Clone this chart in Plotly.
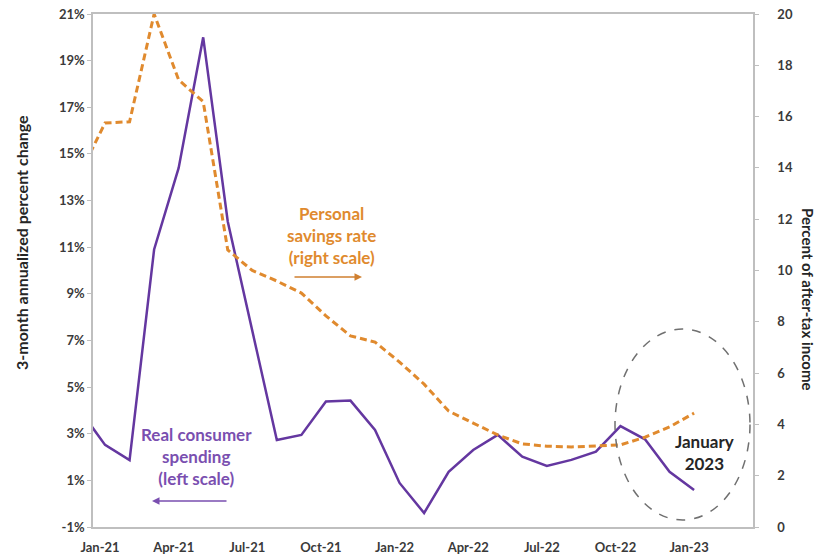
import plotly.graph_objects as go

# ---- data ----
months = ["Dec-20", "Jan-21", "Feb-21", "Mar-21", "Apr-21", "May-21", "Jun-21", "Jul-21",
          "Aug-21", "Sep-21", "Oct-21", "Nov-21", "Dec-21", "Jan-22", "Feb-22", "Mar-22",
          "Apr-22", "May-22", "Jun-22", "Jul-22", "Aug-22", "Sep-22", "Oct-22", "Nov-22",
          "Dec-22", "Jan-23", "Feb-23", "Mar-23"]
spending = [3.98, 2.52, 1.87, 10.9, 14.4, 20.0, 12.1, 7.4, 2.73, 2.95, 4.38, 4.42, 3.16,
            0.89, -0.4, 1.37, 2.3, 2.95, 2.02, 1.62, 1.88, 2.23, 3.33, 2.76, 1.37, 0.59]
savings = [13.81, 15.75, 15.8, 20.0, 17.43, 16.58, 10.8, 10.0, 9.59, 9.12, 8.23, 7.45, 7.21,
           6.43, 5.57, 4.52, 4.05, 3.59, 3.24, 3.15, 3.12, 3.15, 3.2, 3.5, 3.9, 4.44]
tick_labels = ["Jan-21", "Apr-21", "Jul-21", "Oct-21", "Jan-22", "Apr-22", "Jul-22",
               "Oct-22", "Jan-23"]
left_ticks = [-1, 1, 3, 5, 7, 9, 11, 13, 15, 17, 19, 21]
left_tick_text = ["-1%", "1%", "3%", "5%", "7%", "9%", "11%", "13%", "15%", "17%", "19%", "21%"]

PURPLE = "#6437A0"
ORANGE = "#E08A2E"
FONT = "Lato"
TICKC = "#3A3A3A"
AXC = "#BFBFBF"

fig = go.Figure()
fig.add_trace(go.Scatter(x=months[:len(spending)], y=spending, mode="lines",
                         line=dict(color=PURPLE, width=2.5), yaxis="y",
                         showlegend=False, hoverinfo="skip"))
fig.add_trace(go.Scatter(x=months[:len(savings)], y=savings, mode="lines",
                         line=dict(color=ORANGE, width=3, dash="7px,4px"), yaxis="y2",
                         showlegend=False, hoverinfo="skip"))

tf = dict(family=FONT, size=13, color=TICKC, weight="bold")
fig.update_layout(
    width=820, height=557,
    margin=dict(l=93, r=67, t=14, b=30),
    paper_bgcolor="white", plot_bgcolor="white",
    font=dict(family=FONT, color=TICKC),
    xaxis=dict(type="category", categoryorder="array", categoryarray=months,
               range=[0.51, 27.4], tickmode="array", tickvals=tick_labels,
               ticktext=tick_labels, showgrid=False, showline=True, linecolor=AXC,
               linewidth=1.5, mirror=True, ticks="", zeroline=False, automargin=False,
               ticklabelstandoff=8, ticklabelshift=-5, tickfont=tf),
    yaxis=dict(range=[-1, 21], tickmode="array", tickvals=left_ticks,
               ticktext=left_tick_text, showgrid=False, automargin=False,
               showline=True, linecolor=AXC, linewidth=1.5, ticks="outside",
               ticklen=4, tickcolor=AXC, zeroline=False, tickfont=tf),
    yaxis2=dict(range=[0, 20], tick0=0, dtick=2, overlaying="y", side="right",
                showgrid=False, showline=True, linecolor=AXC, linewidth=1.5,
                ticks="outside", ticklen=4, tickcolor=AXC, zeroline=False,
                automargin=False, ticklabelstandoff=16, tickfont=tf),
)

def px2paper(px, py):
    return (px - 93) / 660, (527 - py) / 513

ann = []
def text_ann(px, py, text, color, size=17, angle=0):
    x, y = px2paper(px, py)
    ann.append(dict(x=x, y=y, xref="paper", yref="paper", showarrow=False,
                    xanchor="center", yanchor="middle", textangle=angle, text=text,
                    font=dict(family=FONT, size=size, color=color, weight="bold")))

def arrow_ann(hx, hy, dx, color):
    x, y = px2paper(hx, hy)
    ann.append(dict(x=x, y=y, xref="paper", yref="paper", showarrow=True, text="",
                    ax=dx, ay=0, arrowhead=2, arrowsize=1, arrowwidth=1.5,
                    standoff=0, startstandoff=0, arrowcolor=color))

text_ann(331, 235, "Personal<br>savings rate<br>(right scale)", ORANGE)
arrow_ann(362, 277, -69, "#D08030")
text_ann(196, 456, "Real consumer<br>spending<br>(left scale)", "#7A4FB0")
arrow_ann(152, 501, 76, "#7A4FB0")
text_ann(704, 452, "January<br>2023", "#262626")
text_ann(21, 243, "3-month annualized percent change", "#262626", size=16, angle=-90)
text_ann(808, 299, "Percent of after-tax income", "#262626", size=15, angle=90)
fig.update_layout(annotations=ann)

x0, y0 = px2paper(615, 520)
x1, y1 = px2paper(750, 329)
fig.add_shape(type="circle", xref="paper", yref="paper", x0=x0, y0=y0, x1=x1, y1=y1,
              line=dict(color="#707070", width=1.5, dash="dash"))

fig.write_html("out.html")
